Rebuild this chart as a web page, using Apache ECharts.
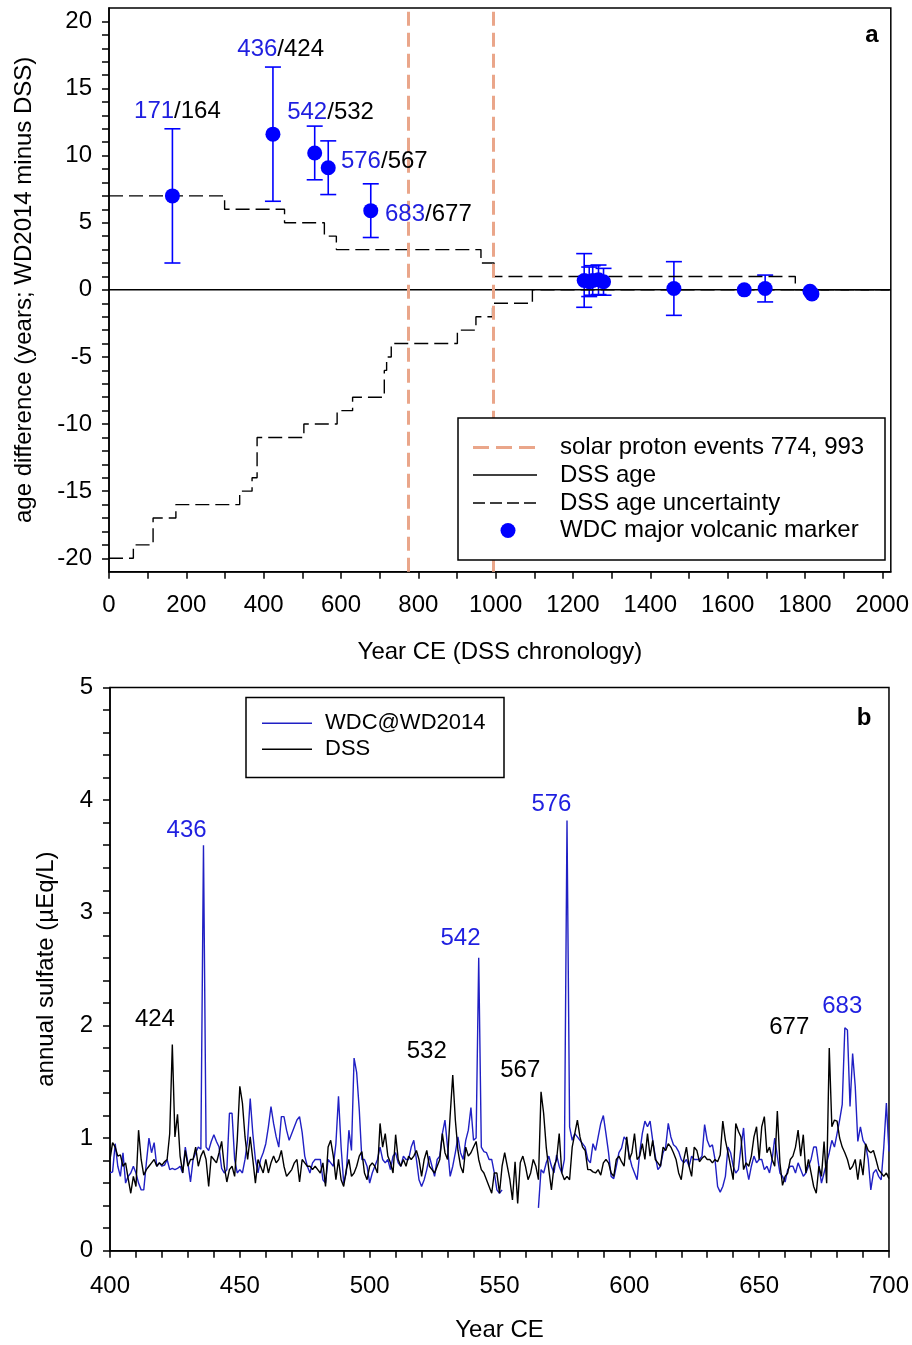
<!DOCTYPE html>
<html>
<head>
<meta charset="utf-8">
<script src="https://cdn.jsdelivr.net/npm/echarts@6.0.0/dist/echarts.min.js"></script>
<style>
  html, body { margin: 0; padding: 0; background: #fff; }
  #chart { width: 912px; height: 1345px; }
</style>
</head>
<body>
<div id="chart"></div>
<script>
const FONT = '"Liberation Sans", Arial, sans-serif'
const BLUE = '#0000ff'
const BLUE_TXT = '#1f1fe0'
const BLUE_LINE = '#2020c4'
const ORANGE = '#eaa68a'

// ---- panel a: age difference WD2014 - DSS ----
const spEvents = [774, 993]
const dssAgeYears = [0, 2022]
const dssAgeDiff = [0, 0]

// DSS age uncertainty (step bounds)
const upperYears = [0, 299, 454, 557, 588, 962, 996, 1775, 2022]
const upperVals = [7, 6, 5, 4, 3, 2, 1, 0, 0]
const lowerYears = [0, 63, 114, 173, 338, 370, 383, 504, 590, 630, 712, 718, 730, 901, 949, 992, 1095, 2022]
const lowerVals = [-20, -19, -17, -16, -15, -14, -11, -10, -9, -8, -6, -5, -4, -3, -2, -1, 0, 0]

// WDC major volcanic markers
const markerYears = [164, 424, 532, 567, 677, 1229, 1242, 1251, 1266, 1279, 1461, 1643, 1697, 1813, 1818]
const markerDiff = [7, 11.6, 10.2, 9.1, 5.9, 0.7, 0.6, 0.7, 0.75, 0.6, 0.1, 0, 0.1, -0.1, -0.3]
const markerErr = [5, 5, 2, 2, 2, 2, 1.1, 1.1, 1.1, 1, 2, 0, 1, 0, 0]

// marker annotations: WD2014 year / DSS year
const annA = [
  [177, 13.3, '171', '164'],
  [444, 17.9, '436', '424'],
  [573, 13.2, '542', '532'],
  [712, 9.55, '576', '567'],
  [826, 5.6, '683', '677']
]

// ---- panel b: annual sulfate ----
const firstYear = 400
const wdc = [
  0.69, 0.70, 0.95, 0.75, 0.66, 0.87, 0.60, 0.66, 0.69, 0.75,
  0.69, 0.60, 0.54, 0.54, 0.78, 1.00, 0.87, 0.96, 0.75, 0.78,
  0.75, 0.76, 0.81, 0.72, 0.73, 0.72, 0.73, 0.75, 0.69, 0.92,
  0.78, 0.61, 0.81, 0.87, 0.92, 0.90, 3.60, 0.92, 0.89, 0.97,
  1.03, 0.97, 0.92, 0.73, 0.69, 0.72, 1.22, 1.22, 0.81, 0.69,
  0.72, 0.69, 0.81, 0.98, 1.35, 1.04, 0.81, 0.69, 0.81, 0.87,
  0.95, 1.10, 1.28, 1.13, 1.01, 0.92, 1.19, 1.19, 1.07, 0.98,
  1.04, 1.10, 1.16, 1.19, 1.05, 0.84, 0.75, 0.69, 0.78, 0.81,
  0.81, 0.81, 0.63, 0.60, 0.81, 0.78, 0.75, 0.95, 1.37, 0.92,
  0.60, 0.69, 1.07, 0.89, 1.71, 1.58, 1.25, 0.81, 0.81, 0.75,
  0.60, 0.69, 0.75, 0.81, 0.92, 0.81, 0.78, 0.81, 0.72, 0.84,
  0.87, 0.78, 0.75, 0.84, 0.81, 0.81, 0.92, 0.98, 0.81, 0.63,
  0.57, 0.63, 0.72, 0.84, 0.75, 0.66, 0.81, 0.84, 1.04, 1.16,
  0.92, 0.66, 0.75, 0.87, 1.01, 0.87, 0.81, 0.98, 1.07, 1.27,
  0.98, 1.00, 2.60, 0.92, 0.88, 0.87, 0.81, 0.81, 0.69, 0.54,
  0.51, 0.54, null, null, null, null, null, null, null, null,
  null, null, null, null, null, 0.38, 0.72, 0.69, 0.78, 0.84,
  0.75, 0.69, 0.85, 0.75, 0.69, 0.81, 3.82, 1.10, 0.98, 1.04,
  1.01, 0.98, 0.95, 0.92, 0.81, 0.78, 0.95, 0.89, 1.01, 1.13,
  1.20, 1.04, 0.87, 0.66, 0.64, 0.75, 0.87, 0.91, 1.01, 0.98,
  0.84, 0.75, 0.69, 0.63, 0.87, 1.04, 1.15, 1.10, 1.15, 0.98,
  0.84, 0.72, 0.75, 0.87, 0.92, 1.13, 1.01, 0.94, 0.92, 0.88,
  0.81, 0.78, 0.81, 0.75, 0.84, 0.81, 0.81, 0.81, 0.84, 1.12,
  0.98, 0.92, 0.94, 0.81, 0.57, 0.52, 0.57, 0.66, 0.92, 0.87,
  0.75, 0.69, 0.72, 0.92, 1.09, 0.75, 0.63, 0.75, 0.84, 0.78,
  0.81, 0.81, 0.72, 0.75, 0.69, 0.81, 1.00, 0.84, 0.69, 0.66,
  0.61, 0.72, 0.75, 0.75, 0.69, 0.78, 0.72, 0.66, 0.69, 0.75,
  0.81, 0.92, 0.92, 0.75, 0.60, 0.69, 0.78, 0.87, 0.98, 0.92,
  1.04, 1.16, 1.30, 1.98, 1.96, 1.28, 1.75, 1.46, 0.97, 1.10,
  0.98, 0.94, 0.81, 0.54, 0.69, 0.72, 0.66, 0.63, 0.92, 1.31,
  0.88
]
const dss = [
  0.81, 0.96, 0.92, 0.84, 0.85, 0.75, 0.78, 0.64, 0.51, 0.66,
  0.57, 1.07, 0.81, 0.67, 0.72, 0.75, 0.78, 0.81, 0.75, 0.78,
  0.76, 0.79, 0.81, 1.04, 1.83, 1.01, 1.21, 0.84, 0.69, 0.89,
  0.75, 0.81, 0.81, 0.92, 0.75, 0.84, 0.89, 0.81, 0.57, 0.84,
  0.81, 0.78, 0.87, 0.97, 0.75, 0.61, 0.72, 0.75, 0.66, 0.98,
  1.46, 1.31, 1.01, 0.81, 1.01, 0.81, 0.60, 0.81, 0.75, 0.69,
  0.81, 0.69, 0.78, 0.84, 0.78, 0.81, 0.89, 0.75, 0.66, 0.69,
  0.72, 0.78, 0.81, 0.61, 0.81, 0.78, 0.75, 0.75, 0.72, 0.75,
  0.72, 0.69, 0.78, 0.57, 0.92, 0.98, 0.84, 0.63, 0.81, 0.63,
  0.57, 0.72, 0.81, 0.66, 0.69, 0.75, 0.84, 0.88, 0.69, 0.63,
  0.75, 0.78, 0.75, 0.69, 1.13, 0.92, 1.04, 0.84, 0.78, 0.69,
  1.03, 0.81, 0.75, 0.81, 0.75, 0.84, 0.81, 0.84, 0.89, 0.81,
  0.66, 0.81, 0.89, 0.75, 0.72, 0.69, 0.75, 0.81, 1.04, 0.87,
  0.81, 1.20, 1.56, 1.16, 0.89, 0.75, 0.69, 0.92, 0.84, 0.87,
  0.92, 0.97, 0.81, 0.72, 0.69, 0.63, 0.57, 0.51, 0.69, 0.69,
  0.51, 0.75, 0.87, 0.75, 0.63, 0.45, 0.79, 0.42, 0.78, 0.84,
  0.75, 0.63, 0.69, 0.81, 0.75, 0.63, 1.41, 1.22, 0.92, 0.72,
  0.54, 0.75, 0.81, 1.04, 0.69, 0.63, 0.66, 0.63, 0.92, 1.04,
  1.16, 1.01, 0.92, 0.89, 0.72, 0.72, 0.70, 0.69, 0.72, 0.67,
  0.78, 0.81, 0.78, 0.69, 0.66, 0.81, 0.84, 0.79, 0.75, 1.01,
  0.81, 0.87, 1.04, 0.81, 0.84, 0.95, 0.81, 1.04, 0.84, 0.98,
  0.81, 0.78, 0.75, 0.92, 0.89, 0.95, 0.92, 0.87, 0.81, 0.69,
  0.63, 0.81, 0.92, 0.75, 0.66, 0.92, 0.89, 0.79, 0.82, 0.84,
  0.81, 0.81, 0.78, 0.81, 0.79, 0.85, 1.15, 0.98, 0.87, 0.75,
  0.63, 1.13, 1.06, 1.01, 0.72, 0.78, 0.75, 0.84, 1.01, 1.10,
  0.81, 1.10, 1.19, 0.87, 0.92, 0.81, 0.75, 1.24, 0.78, 0.58,
  0.66, 0.69, 0.81, 0.84, 0.92, 1.07, 0.84, 1.03, 0.69, 0.81,
  0.69, 0.57, 0.51, 0.75, 0.66, 0.97, 0.60, 1.80, 1.10, 1.16,
  1.15, 1.00, 0.92, 0.87, 0.81, 0.72, 0.75, 0.81, 0.63, 0.81,
  0.67, 0.95, 0.89, 0.87, 0.89, 0.81, 0.72, 0.69, 0.66, 0.69,
  0.64
]
const years = wdc.map((_, i) => firstYear + i)

// eruption year labels in panel b
const annBlue = [[429.5, 3.73, '436'], [535, 2.77, '542'], [570, 3.96, '576'], [682, 2.17, '683']]
const annBlack = [[417.3, 2.05, '424'], [522, 1.77, '532'], [558, 1.6, '567'], [661.6, 1.98, '677']]

// tick positions
const range = (a, b, s) => { const r = []; for (let v = a; v <= b + 1e-9; v += s) r.push(Math.round(v * 10) / 10); return r }
const ticksAx = range(0, 2000, 100), labelsAx = range(0, 2000, 200)
const ticksAy = range(-20, 20, 1), labelsAy = range(-20, 20, 5)
const ticksBx = range(400, 700, 10), labelsBx = range(400, 700, 50)
const ticksBy = range(0, 5, 0.2), labelsBy = range(0, 5, 1)

const chart = echarts.init(document.getElementById('chart'))

const axisCommon = (ticks, labels, margin) => ({
  axisLine: { onZero: false, lineStyle: { color: '#000', width: 1.5 } },
  axisTick: { customValues: ticks, length: 7, lineStyle: { color: '#000', width: 1.5 } },
  axisLabel: { customValues: labels, fontSize: 24, fontFamily: FONT, color: '#000', margin: margin, formatter: v => String(v) },
  splitLine: { show: false },
  nameTextStyle: { fontSize: 24, fontFamily: FONT, color: '#000' },
  nameLocation: 'middle'
})

// error bars for markers
const renderErr = (params, api) => {
  const x = api.value(0), y = api.value(1), e = api.value(2)
  if (!e) return null
  const top = api.coord([x, y + e]), bot = api.coord([x, y - e])
  const w = 8
  const st = { stroke: BLUE, lineWidth: 1.6 }
  return {
    type: 'group',
    children: [
      { type: 'line', shape: { x1: top[0], y1: top[1], x2: bot[0], y2: bot[1] }, style: st },
      { type: 'line', shape: { x1: top[0] - w, y1: top[1], x2: top[0] + w, y2: top[1] }, style: st },
      { type: 'line', shape: { x1: bot[0] - w, y1: bot[1], x2: bot[0] + w, y2: bot[1] }, style: st }
    ]
  }
}

const txt = (text, x, y, opts = {}) => ({
  type: 'text', z: 100,
  style: Object.assign({ text, x, y, font: '24px ' + FONT, fill: '#000', textVerticalAlign: 'middle' }, opts)
})
const seg = (x1, y1, x2, y2, style) => ({ type: 'line', z: 100, shape: { x1, y1, x2, y2 }, style })

const option = {
  backgroundColor: '#fff',
  animation: false,
  grid: [
    { left: 109, right: 19.3, top: 8, height: 563.7, show: true, borderColor: '#000', borderWidth: 1.5 },
    { left: 110, right: 19.5, top: 687.5, height: 563.2, show: true, borderColor: '#000', borderWidth: 1.5 }
  ],
  xAxis: [
    Object.assign(axisCommon(ticksAx, labelsAx, 22), { gridIndex: 0, type: 'value', min: 0, max: 2022, name: 'Year CE (DSS chronology)', nameGap: 69 }),
    Object.assign(axisCommon(ticksBx, labelsBx, 24), { gridIndex: 1, type: 'value', min: 400, max: 700, name: 'Year CE', nameGap: 68 })
  ],
  yAxis: [
    Object.assign(axisCommon(ticksAy, labelsAy, 17), { gridIndex: 0, type: 'value', min: -21, max: 21, name: 'age difference (years; WD2014 minus DSS)', nameGap: 73 }),
    Object.assign(axisCommon(ticksBy, labelsBy, 17), { gridIndex: 1, type: 'value', min: 0, max: 5, name: 'annual sulfate (µEq/L)', nameGap: 52 })
  ],
  series: [
    {
      name: 'DSS age', type: 'line', xAxisIndex: 0, yAxisIndex: 0, showSymbol: false, silent: true,
      data: dssAgeYears.map((x, i) => [x, dssAgeDiff[i]]),
      lineStyle: { color: '#000', width: 1.5 },
      markLine: {
        silent: true, symbol: ['none', 'none'], label: { show: false },
        lineStyle: { color: ORANGE, width: 3, type: [14, 7] },
        data: spEvents.map(v => ({ xAxis: v }))
      }
    },
    {
      name: 'upper', type: 'line', step: 'end', xAxisIndex: 0, yAxisIndex: 0, showSymbol: false, silent: true,
      data: upperYears.map((x, i) => [x, upperVals[i]]),
      lineStyle: { color: '#000', width: 1.4, type: [14, 6] }
    },
    {
      name: 'lower', type: 'line', step: 'end', xAxisIndex: 0, yAxisIndex: 0, showSymbol: false, silent: true,
      data: lowerYears.map((x, i) => [x, lowerVals[i]]),
      lineStyle: { color: '#000', width: 1.4, type: [14, 6] }
    },
    {
      name: 'err', type: 'custom', xAxisIndex: 0, yAxisIndex: 0, silent: true, z: 3,
      renderItem: renderErr,
      encode: { x: 0, y: 1 },
      data: markerYears.map((x, i) => [x, markerDiff[i], markerErr[i]])
    },
    {
      name: 'WDC major volcanic marker', type: 'scatter', xAxisIndex: 0, yAxisIndex: 0, silent: true, z: 4,
      symbolSize: 15, itemStyle: { color: BLUE, opacity: 1 },
      data: markerYears.map((x, i) => [x, markerDiff[i]])
    },
    {
      name: 'annA', type: 'scatter', xAxisIndex: 0, yAxisIndex: 0, silent: true, symbolSize: 0, z: 5,
      itemStyle: { opacity: 1 },
      data: annA,
      label: {
        show: true, position: 'inside',
        formatter: p => `{b|${p.value[2]}}{k|/${p.value[3]}}`,
        rich: {
          b: { color: BLUE_TXT, fontSize: 24, fontFamily: FONT },
          k: { color: '#000', fontSize: 24, fontFamily: FONT }
        }
      }
    },
    {
      name: 'WDC@WD2014', type: 'line', xAxisIndex: 1, yAxisIndex: 1, showSymbol: false, silent: true,
      connectNulls: false,
      data: years.map((x, i) => [x, wdc[i]]),
      lineStyle: { color: BLUE_LINE, width: 1.4 }
    },
    {
      name: 'DSS', type: 'line', xAxisIndex: 1, yAxisIndex: 1, showSymbol: false, silent: true,
      data: years.map((x, i) => [x, dss[i]]),
      lineStyle: { color: '#000', width: 1.4 }
    },
    {
      name: 'annBlue', type: 'scatter', xAxisIndex: 1, yAxisIndex: 1, silent: true, symbolSize: 0,
      itemStyle: { opacity: 1 },
      data: annBlue,
      label: { show: true, position: 'inside', formatter: p => p.value[2], color: BLUE_TXT, fontSize: 24, fontFamily: FONT }
    },
    {
      name: 'annBlack', type: 'scatter', xAxisIndex: 1, yAxisIndex: 1, silent: true, symbolSize: 0,
      itemStyle: { opacity: 1 },
      data: annBlack,
      label: { show: true, position: 'inside', formatter: p => p.value[2], color: '#000', fontSize: 24, fontFamily: FONT }
    }
  ],
  graphic: [
    // panel letters
    txt('a', 872, 35, { font: 'bold 24px ' + FONT, textAlign: 'center' }),
    txt('b', 864, 718, { font: 'bold 24px ' + FONT, textAlign: 'center' }),
    // legend panel a
    { type: 'rect', z: 99, shape: { x: 458, y: 418, width: 427, height: 142 }, style: { fill: '#fff', stroke: '#000', lineWidth: 1.5 } },
    seg(473, 447.5, 537, 447.5, { stroke: ORANGE, lineWidth: 3, lineDash: [16, 7] }),
    seg(473, 475, 537, 475, { stroke: '#000', lineWidth: 1.4 }),
    seg(473, 503, 537, 503, { stroke: '#000', lineWidth: 1.4, lineDash: [12, 5] }),
    { type: 'circle', z: 100, shape: { cx: 508, cy: 530.5, r: 7.5 }, style: { fill: BLUE } },
    txt('solar proton events 774, 993', 560, 447.5),
    txt('DSS age', 560, 475),
    txt('DSS age uncertainty', 560, 503),
    txt('WDC major volcanic marker', 560, 530.5),
    // legend panel b
    { type: 'rect', z: 99, shape: { x: 246, y: 697.5, width: 258, height: 80 }, style: { fill: '#fff', stroke: '#000', lineWidth: 1.5 } },
    seg(262, 723.3, 312, 723.3, { stroke: BLUE_LINE, lineWidth: 1.4 }),
    seg(262, 749.3, 312, 749.3, { stroke: '#000', lineWidth: 1.4 }),
    txt('WDC@WD2014', 325, 723.3, { font: '22px ' + FONT }),
    txt('DSS', 325, 749.3, { font: '22px ' + FONT })
  ]
}

chart.setOption(option)
</script>
</body>
</html>
